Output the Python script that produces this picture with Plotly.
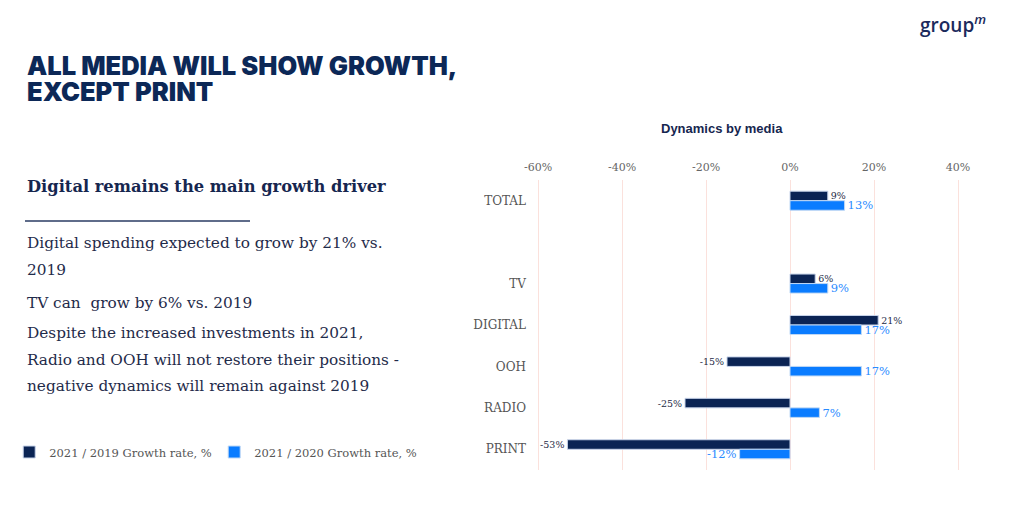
import plotly.graph_objects as go

categories = ["TOTAL", "TV", "DIGITAL", "OOH", "RADIO", "PRINT"]
category_order = ["TOTAL", "", "TV", "DIGITAL", "OOH", "RADIO", "PRINT"]
growth_2021_vs_2019 = [9, 6, 21, -15, -25, -53]
growth_2021_vs_2020 = [13, 9, 17, 17, 7, -12]
tick_values = [-60, -40, -20, 0, 20, 40]
tick_labels = ["-60%", "-40%", "-20%", "0%", "20%", "40%"]

W, H = 1023, 525
BLUE = "#0A7CFF"
SERIF = "DejaVu Serif"

y_pos = [category_order.index(c) for c in categories]

fig = go.Figure()
fig.add_trace(go.Bar(
    y=y_pos, x=growth_2021_vs_2019, orientation="h",
    name="2021 / 2019 Growth rate, %",
    marker=dict(color="#0B2454", line=dict(color="#C8D4EA", width=1)),
    text=[f"{v}%" for v in growth_2021_vs_2019], texttemplate="%{text}",
    textposition="outside", constraintext="none",
    textfont=dict(family=SERIF, size=9.5, color="#1E2A45"), cliponaxis=False,
))
fig.add_trace(go.Bar(
    y=y_pos, x=growth_2021_vs_2020, orientation="h",
    name="2021 / 2020 Growth rate, %",
    marker=dict(color=BLUE, line=dict(color="#BFD8F5", width=1)),
    text=[f"{v}%" for v in growth_2021_vs_2020], texttemplate="%{text}",
    textposition="outside", constraintext="none",
    textfont=dict(family=SERIF, size=11.5, color="#2A8BFF"), cliponaxis=False,
))

x0, x1 = 532, 979
px_per_pct = (958 - 538) / 100
y_top, y_bot = 180, 470
fig.update_layout(
    width=W, height=H, margin=dict(l=0, r=0, t=0, b=0, autoexpand=False),
    paper_bgcolor="white", plot_bgcolor="white",
    barmode="group", bargap=0.54, bargroupgap=0,
    showlegend=True,
    legend=dict(orientation="h", x=0.009, y=1 - 452 / H, xanchor="left", yanchor="middle",
                font=dict(family=SERIF, size=11.5, color="#555555"),
                entrywidth=160, bgcolor="rgba(0,0,0,0)", traceorder="normal"),
    xaxis=dict(domain=[x0 / W, x1 / W], automargin=False,
               range=[-60 - (538 - x0) / px_per_pct, 40 + (x1 - 958) / px_per_pct], side="top",
               tickvals=tick_values, ticktext=tick_labels,
               showgrid=True, gridcolor="#FBE1DC", gridwidth=1, zeroline=False,
               showline=False, ticks="", ticklabelstandoff=6,
               tickfont=dict(family=SERIF, size=11, color="#666666"),
               fixedrange=True),
    yaxis=dict(domain=[1 - y_bot / H, 1 - y_top / H], automargin=False,
               tickvals=y_pos, ticktext=categories,
               range=[len(category_order) - 0.5, -0.5], showgrid=False, zeroline=False, showline=False,
               ticks="", ticklabelstandoff=5,
               tickfont=dict(family=SERIF, size=12, color="#555555"), fixedrange=True),
)

# Title
fig.add_annotation(xref="paper", yref="paper", x=25 / W, y=1 - 66 / H, xanchor="left", yanchor="middle",
                   text="ALL MEDIA WILL SHOW GROWTH,", showarrow=False, align="left",
                   font=dict(family="Inter", size=25.5, weight=900, color="#0C2857"))
fig.add_annotation(xref="paper", yref="paper", x=25 / W, y=1 - 92 / H, xanchor="left", yanchor="middle",
                   text="EXCEPT PRINT", showarrow=False, align="left",
                   font=dict(family="Inter", size=25.5, weight=900, color="#0C2857"))
# Logo
fig.add_annotation(xref="paper", yref="paper", x=918 / W, y=1 - 24 / H, xanchor="left", yanchor="middle",
                   text="group<sup><i>m</i></sup>", showarrow=False,
                   font=dict(family="Open Sans", size=19, weight=600, color="#1B2A5C"))
# Chart title
fig.add_annotation(xref="paper", yref="paper", x=722 / W, y=1 - 128 / H, xanchor="center", yanchor="middle",
                   text="<b>Dynamics by media</b>", showarrow=False,
                   font=dict(family="Liberation Sans", size=13, color="#16264F"))
# Subheading
fig.add_annotation(xref="paper", yref="paper", x=25 / W, y=1 - 186 / H, xanchor="left", yanchor="middle",
                   text="<b>Digital remains the main growth driver</b>", showarrow=False,
                   font=dict(family=SERIF, size=16.3, color="#16264F"))
fig.add_shape(type="line", xref="paper", yref="paper", x0=25 / W, x1=250 / W,
              y0=1 - 221 / H, y1=1 - 221 / H, line=dict(color="#2A3B63", width=1.5))

body_lines = [
    ("Digital spending expected to grow by 21% vs.", 243),
    ("2019", 270),
    ("TV can  grow by 6% vs. 2019", 303),
    ("Despite the increased investments in 2021,", 333),
    ("Radio and OOH will not restore their positions -", 360),
    ("negative dynamics will remain against 2019", 386),
]
for txt, yy in body_lines:
    fig.add_annotation(xref="paper", yref="paper", x=25 / W, y=1 - yy / H, xanchor="left", yanchor="middle",
                       text=txt, showarrow=False,
                       font=dict(family=SERIF, size=15.3, color="#1F2B4A"))

fig.write_html("out.html")
